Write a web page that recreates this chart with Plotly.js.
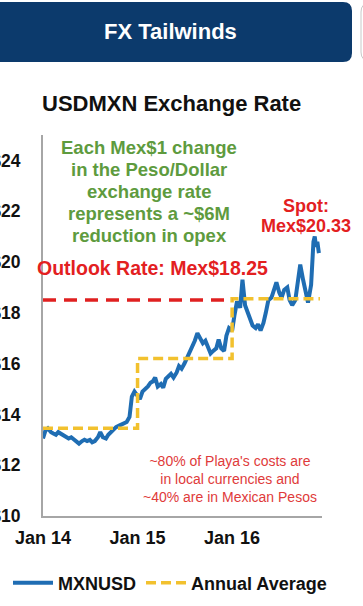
<!DOCTYPE html>
<html>
<head>
<meta charset="utf-8">
<script src="https://cdn.plot.ly/plotly-3.0.1.min.js"></script>
<style>
html,body{margin:0;padding:0;background:#fff;}
#chart{width:363px;height:606px;}
</style>
</head>
<body>
<div id="chart"></div>
<script>
// ---- data ----
const dates = [
'2014-01-01','2014-01-10','2014-01-20','2014-02-01','2014-02-10','2014-02-20',
'2014-03-01','2014-03-10','2014-03-20','2014-04-01','2014-04-10','2014-04-20',
'2014-05-01','2014-05-10','2014-05-20','2014-06-01','2014-06-10','2014-06-20',
'2014-07-01','2014-07-10','2014-07-20','2014-08-01','2014-08-10','2014-08-20',
'2014-09-01','2014-09-10','2014-09-20','2014-10-01','2014-10-10','2014-10-20',
'2014-11-01','2014-11-10','2014-11-20','2014-12-01','2014-12-10','2014-12-20',
'2015-01-01','2015-01-10','2015-01-20','2015-02-01','2015-02-10','2015-02-20',
'2015-03-01','2015-03-10','2015-03-20','2015-04-01','2015-04-10','2015-04-20',
'2015-05-01','2015-05-10','2015-05-20','2015-06-01','2015-06-10','2015-06-20',
'2015-07-01','2015-07-10','2015-07-20','2015-08-01','2015-08-10','2015-08-20',
'2015-09-01','2015-09-10','2015-09-20','2015-10-01','2015-10-10','2015-10-20',
'2015-11-01','2015-11-10','2015-11-20','2015-12-01','2015-12-10','2015-12-20',
'2016-01-01','2016-01-10','2016-01-20','2016-02-01','2016-02-10','2016-02-20',
'2016-03-01','2016-03-10','2016-03-20','2016-04-01','2016-04-10','2016-04-20',
'2016-05-01','2016-05-10','2016-05-20','2016-06-01','2016-06-10','2016-06-20',
'2016-07-01','2016-07-10','2016-07-20','2016-08-01','2016-08-10','2016-08-20',
'2016-09-01','2016-09-10','2016-09-20','2016-10-01','2016-10-10','2016-10-20',
'2016-11-01','2016-11-10','2016-11-15','2016-11-20','2016-11-25','2016-12-01'
];
const mxnusd = [
13.05,13.35,13.45,13.30,13.25,13.20,
13.30,13.25,13.15,13.10,13.05,13.10,
13.00,12.95,12.85,12.95,13.00,12.95,
13.00,12.90,12.95,13.10,13.30,13.10,
13.05,13.20,13.30,13.45,13.50,13.55,
13.60,13.65,13.70,13.90,14.70,14.90,
14.75,14.60,14.90,15.00,15.10,15.25,
15.30,15.45,15.10,15.20,15.05,15.40,
15.50,15.60,15.45,15.65,15.90,15.80,
16.00,16.20,16.40,16.70,16.90,17.20,
17.00,16.80,16.90,16.60,16.40,16.50,
16.60,16.95,16.60,16.50,17.10,17.40,
17.30,17.90,18.45,18.20,19.30,18.30,
18.00,17.85,17.50,17.40,17.55,17.30,
17.60,18.00,18.50,18.60,18.90,19.20,
18.80,18.60,18.90,19.00,18.50,18.30,
18.50,19.30,19.90,19.30,18.80,18.40,
19.10,20.80,21.00,20.60,20.80,20.35
];
const annualDates = ['2014-01-01','2015-01-01','2016-01-01','2016-12-05'];
const annualAvg = [13.45, 16.2, 18.55, 18.55];
const outlookDates = ['2014-01-01','2016-01-01'];
const outlookRate = [18.5, 18.5];
const xTickVals = ['2014-01-01','2015-01-01','2016-01-01'];
const xTickText = ['Jan 14','Jan 15','Jan 16'];
const yTickVals = [10,12,14,16,18,20,22,24];
const yTickText = ['$10','$12','$14','$16','$18','$20','$22','$24'];
const greenLines = ['Each Mex$1 change','in the Peso/Dollar','exchange rate','represents a ~$6M','reduction in opex'];
const spotLines = ['Spot:','Mex$20.33'];
const noteLines = ["~80% of Playa's costs are",'in local currencies and','~40% are in Mexican Pesos'];

// ---- layout helpers (pixel -> paper) ----
const W = 363, H = 606, ML = 43, MR = 41, MT = 135, MB = 90;
const PW = W - ML - MR, PH = H - MT - MB;
const fx = px => (px - ML) / PW;
const fy = py => (H - MB - py) / PH;
const FONT = '"Liberation Sans", Arial, sans-serif';

function roundRect(x0, y0, x1, y1, r) {
  const rx = r / PW, ry = r / PH;
  const a = fx(x0), b = fx(x1), t = fy(y0), bt = fy(y1);
  return `M${a+rx},${t} L${b-rx},${t} Q${b},${t} ${b},${t-ry} L${b},${bt+ry} Q${b},${bt} ${b-rx},${bt} L${a+rx},${bt} Q${a},${bt} ${a},${bt+ry} L${a},${t-ry} Q${a},${t} ${a+rx},${t} Z`;
}
function label(text, px, py, size, color, bold) {
  return {text: text, xref: 'paper', yref: 'paper', x: fx(px), y: fy(py),
    xanchor: 'center', yanchor: 'middle', showarrow: false, align: 'center',
    font: {family: FONT, size: size, weight: bold ? 'bold' : 'normal', color: color}};
}

const traces = [
  {x: dates, y: mxnusd, type: 'scatter', mode: 'lines', name: 'MXNUSD',
   line: {color: '#1f6db3', width: 4}},
  {x: annualDates, y: annualAvg, type: 'scatter', mode: 'lines', name: 'Annual Average',
   line: {color: '#f2c12e', width: 3.5, dash: '10px,5px', shape: 'hv'}},
  {x: outlookDates, y: outlookRate, type: 'scatter', mode: 'lines', name: 'Outlook Rate',
   showlegend: false, line: {color: '#e02020', width: 3.5, dash: '13px,8px'}}
];

const green = '#5e9b3e';
const red = '#e3201f';
const annotations = [
  label('FX Tailwinds', 170, 32, 22, '#fff', true),
  label('USDMXN Exchange Rate', 171, 103, 22, '#111', true),
  label('Outlook Rate: Mex$18.25', 152, 268, 19.5, red, true),
  label(noteLines.join('<br>'), 230, 479, 14, '#e03a3a', false)
];
greenLines.forEach((t, i) => annotations.push(label(t, 149, 147 + 22 * i, 18.5, green, true)));
spotLines.forEach((t, i) => annotations.push(label(t, 306, 206 + 20 * i, 18, red, true)));

const layout = {
  width: W, height: H,
  margin: {l: ML, r: MR, t: MT, b: MB, pad: 0, autoexpand: false},
  paper_bgcolor: '#fff', plot_bgcolor: '#fff',
  font: {family: FONT, color: '#111'},
  showlegend: true,
  legend: {orientation: 'h', x: fx(8), y: fy(583), xanchor: 'left', yanchor: 'middle',
    font: {family: FONT, size: 18, weight: 'bold', color: '#111'},
    itemwidth: 40, tracegroupgap: 0, bgcolor: 'rgba(0,0,0,0)'},
  xaxis: {type: 'date', range: ['2014-01-01','2016-12-13'], showgrid: false, zeroline: false,
    showline: true, linecolor: '#a6a6a6', linewidth: 2,
    tickmode: 'array', tickvals: xTickVals, ticktext: xTickText, ticks: '',
    ticklabelstandoff: 4,
    tickfont: {family: FONT, size: 18, weight: 'bold', color: '#111'}},
  yaxis: {range: [10, 25], showgrid: false, zeroline: false,
    showline: true, linecolor: '#a6a6a6', linewidth: 2,
    tickmode: 'array', tickvals: yTickVals, ticktext: yTickText, ticks: '',
    ticklabelstandoff: 17,
    tickfont: {family: FONT, size: 17.5, weight: 'bold', color: '#111'}},
  shapes: [
    {type: 'path', xref: 'paper', yref: 'paper', path: roundRect(-12, 2, 352, 62, 9),
     fillcolor: '#0c3a6c', line: {width: 0}, layer: 'below'},
    {type: 'path', xref: 'paper', yref: 'paper', path: roundRect(361, 3, 420, 61, 9),
     fillcolor: '#fff', line: {width: 1, color: '#c8c8c8'}, layer: 'below'}
  ],
  annotations: annotations
};

Plotly.newPlot('chart', traces, layout, {displayModeBar: false, staticPlot: true});
</script>
</body>
</html>
